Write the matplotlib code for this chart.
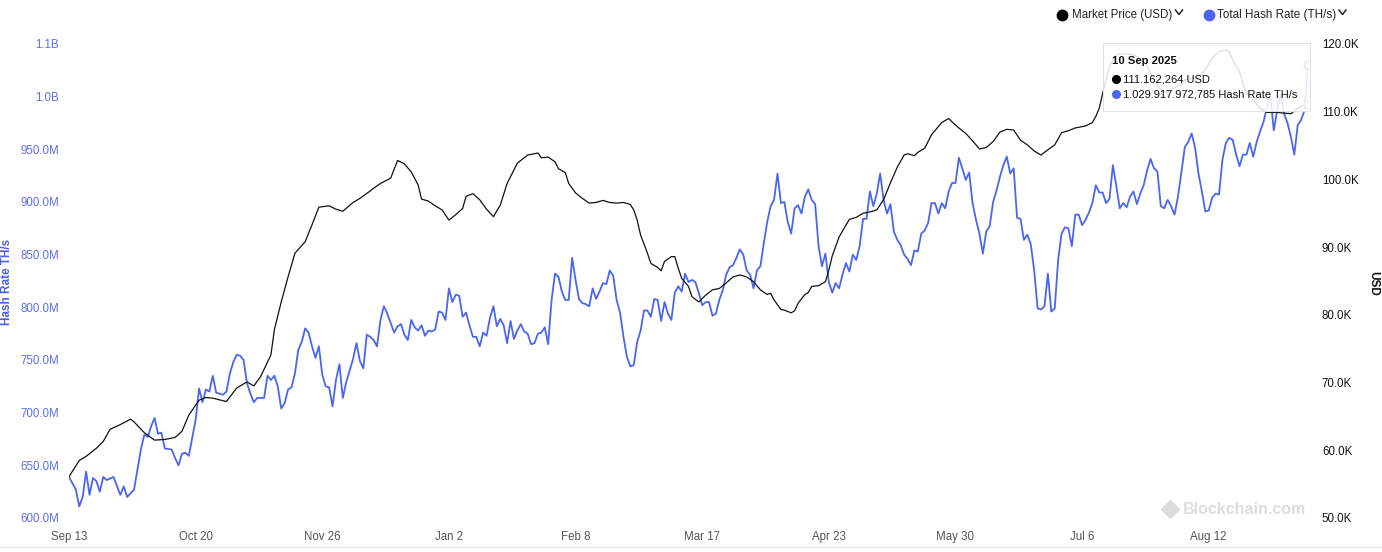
import matplotlib.pyplot as plt
import matplotlib.patches as mpatches
from matplotlib.lines import Line2D
import pandas as pd

plt.rcParams['font.family'] = ['Liberation Sans', 'DejaVu Sans']

# Datos (dias desde 13 Sep 2024)
start = pd.Timestamp("2024-09-13")

hash_days = [0, 2, 3, 4, 5, 6, 7, 8, 9, 10, 11, 13, 15, 16, 17, 19, 21, 22, 23, 24,
             25, 26, 27, 28, 30, 31, 32, 33, 34, 35, 37, 38, 39, 40, 41, 42, 43, 45, 46, 47,
             48, 49, 50, 51, 52, 53, 54, 55, 57, 58, 59, 60, 61, 62, 63, 64, 65, 66] + list(range(67, 363))
# Hash rate en millones de TH/s
hash_rate_m = [639, 627, 611, 620, 644, 622, 638, 635, 625, 639, 636, 639, 622, 630, 620, 627, 665, 679, 677, 687,
               695, 680, 681, 666, 665, 657, 650, 661, 662, 659, 693, 723, 710, 722, 720, 735, 719, 717, 720, 737,
               748, 755, 754, 750, 728, 718, 710, 714, 714, 735, 731, 735, 725, 704, 709, 722, 724, 737,
               760, 767, 780, 776, 763, 752, 763, 736, 725, 724,
               706, 731, 746, 714, 729, 740, 751, 766, 749, 742,
               774, 772, 769, 763, 788, 801, 794, 785, 776, 782,
               784, 774, 769, 788, 781, 778, 783, 773, 778, 777,
               779, 796, 795, 788, 818, 805, 812, 811, 791, 795,
               783, 772, 772, 763, 776, 773, 790, 801, 782, 789,
               783, 766, 787, 770, 778, 784, 777, 775, 765, 766,
               775, 776, 781, 765, 807, 832, 829, 815, 807, 807,
               847, 826, 808, 804, 803, 801, 818, 808, 815, 823,
               822, 835, 830, 807, 795, 772, 753, 744, 745, 767,
               778, 797, 797, 791, 808, 807, 787, 805, 794, 788,
               814, 820, 815, 832, 824, 826, 824, 814, 802, 805,
               805, 792, 794, 807, 816, 831, 838, 840, 847, 855,
               850, 835, 831, 818, 835, 839, 861, 881, 896, 902,
               927, 899, 900, 881, 870, 894, 897, 889, 905, 912,
               902, 898, 858, 839, 851, 824, 814, 823, 818, 831,
               842, 834, 850, 845, 858, 884, 884, 910, 896, 908,
               927, 902, 889, 898, 872, 864, 859, 850, 846, 840,
               854, 853, 870, 873, 880, 899, 899, 889, 899, 894,
               910, 918, 918, 942, 932, 921, 928, 899, 883, 870,
               851, 872, 877, 900, 911, 924, 935, 943, 927, 932,
               885, 884, 864, 869, 860, 835, 799, 798, 801, 832,
               796, 799, 845, 870, 876, 875, 858, 888, 888, 878,
               883, 890, 899, 916, 909, 909, 899, 903, 935, 915,
               894, 899, 895, 905, 910, 898, 908, 916, 930, 941,
               932, 929, 896, 894, 902, 896, 888, 905, 928, 952,
               957, 965, 952, 927, 910, 891, 892, 904, 908, 907,
               940, 956, 961, 959, 945, 934, 945, 945, 956, 943,
               957, 967, 976, 990, 1002, 968, 987, 1002, 984, 975,
               962, 945, 973, 978, 987, 1029.918]

price_days = [0, 3, 5, 8, 10, 12, 15, 18, 19, 22, 25, 28, 31, 33, 35, 38, 40, 42, 46, 49,
              52, 54, 56, 59, 60, 62, 64, 66, 69, 71, 73, 76, 78, 80, 83, 85, 88, 89, 91, 94,
              96, 98, 100, 102, 103, 105, 107, 109, 111, 113, 115, 116, 118, 120, 122, 124, 126, 128, 131, 134,
              135, 137, 138, 140, 142, 143, 145, 146, 148, 150, 152, 154, 156, 158, 160, 162, 164, 165, 166, 167,
              169, 170, 172, 173, 174, 176, 177, 178, 179, 181, 182, 184, 186, 188, 190, 192, 194, 196, 198, 200,
              202, 204, 205, 206, 208, 209, 211, 212, 213, 215, 216, 217, 219, 221, 222, 223, 225, 228, 230, 232,
              234, 236, 238, 240, 242, 244, 245, 247, 248, 250, 252, 254, 255, 257, 258, 260, 262, 264, 266, 268,
              270, 272, 274, 276, 278, 280, 282, 284, 285, 288, 290, 292, 294, 297, 299, 300, 301, 302, 304, 306,
              308, 311, 313, 315, 317, 319, 321, 323, 325, 326, 328, 330, 332, 334, 336, 338, 339, 340, 342, 343,
              344, 346, 348, 350, 353, 355, 357, 359, 360, 362]
# Precio en miles de USD
price_k = [56.1, 58.5, 59.1, 60.3, 61.3, 63.1, 63.8, 64.6, 64.2, 62.6, 61.5, 61.6, 61.9, 62.8, 65.2, 67.4, 67.8, 67.7, 67.2, 69.2,
           70.1, 69.5, 70.9, 74.1, 77.8, 81.9, 85.6, 89.1, 90.8, 93.3, 95.9, 96.1, 95.6, 95.3, 96.6, 97.2, 98.3, 98.7, 99.4, 100.2,
           102.8, 102.3, 101.1, 99.2, 97.1, 96.8, 96.1, 95.5, 94.0, 94.8, 95.7, 97.5, 97.9, 97.0, 95.6, 94.5, 96.2, 99.4, 102.4, 103.6,
           103.7, 103.9, 103.2, 103.3, 102.6, 101.6, 101.0, 99.4, 98.0, 97.2, 96.5, 96.6, 96.9, 96.6, 96.5, 96.6, 96.3, 95.5, 94.0, 91.8,
           89.1, 87.6, 87.0, 86.5, 87.9, 88.6, 88.6, 86.9, 85.4, 84.2, 82.7, 81.9, 82.9, 83.7, 83.9, 84.7, 85.6, 85.9, 85.6, 84.9,
           83.7, 83.0, 83.2, 82.2, 80.8, 80.7, 80.3, 80.6, 81.7, 83.0, 83.3, 84.2, 84.3, 84.9, 86.6, 88.7, 91.5, 94.1, 94.4, 95.0,
           95.2, 95.5, 97.0, 99.5, 101.8, 103.6, 103.8, 103.5, 104.0, 104.6, 106.6, 107.8, 108.4, 109.0, 108.5, 107.6, 106.8, 105.7, 104.5, 104.7,
           105.6, 107.0, 107.4, 107.3, 105.8, 105.1, 104.2, 103.6, 104.0, 105.1, 106.9, 107.2, 107.6, 107.9, 108.4, 109.3, 110.5, 112.7, 116.7, 118.4,
           118.6, 118.4, 117.9, 116.7, 114.7, 113.2, 112.9, 113.5, 114.1, 114.7, 114.9, 115.2, 116.2, 117.9, 118.9, 119.1, 118.9, 117.6, 115.9, 114.2,
           112.7, 111.7, 110.5, 109.9, 109.9, 109.8, 109.7, 110.5, 110.8, 111.162]

x_tick_dates = ["2024-09-13", "2024-10-20", "2024-11-26", "2025-01-02", "2025-02-08",
                "2025-03-17", "2025-04-23", "2025-05-30", "2025-07-06", "2025-08-12"]
x_tick_labels = ["Sep 13", "Oct 20", "Nov 26", "Jan 2", "Feb 8",
                 "Mar 17", "Apr 23", "May 30", "Jul 6", "Aug 12"]
hash_ticks_m = [600, 650, 700, 750, 800, 850, 900, 950, 1000, 1050]
hash_tick_labels = ["600.0M", "650.0M", "700.0M", "750.0M", "800.0M", "850.0M",
                    "900.0M", "950.0M", "1.0B", "1.1B"]
price_ticks_k = [50, 60, 70, 80, 90, 100, 110, 120]
price_tick_labels = ["50.0K", "60.0K", "70.0K", "80.0K", "90.0K", "100.0K", "110.0K", "120.0K"]

tooltip_date = "10 Sep 2025"
tooltip_price = "111.162,264 USD"
tooltip_hash = "1.029.917.972,785 Hash Rate TH/s"

BLUE = "#4a66ee"
W, H = 1382, 552


def fx(px):
    return px / W


def fy(py):
    return 1 - py / H


hash_dates = start + pd.to_timedelta(hash_days, unit="D")
price_dates = start + pd.to_timedelta(price_days, unit="D")
hash_vals = [v * 1e6 for v in hash_rate_m]
price_vals = [v * 1e3 for v in price_k]

fig = plt.figure(figsize=(W / 100, H / 100), dpi=100)
ax = fig.add_axes([fx(69), fy(518), fx(1308) - fx(69), (518 - 44) / H])
ax2 = ax.twinx()

ax.plot(hash_dates, hash_vals, color=BLUE, lw=1.3)
ax2.plot(price_dates, price_vals, color="#111111", lw=0.9)

# marcadores del cursor
ax.plot(hash_dates[-1], hash_vals[-1], "o", ms=6, mfc="white", mec=BLUE, mew=1.2)
ax2.plot(price_dates[-1], price_vals[-1], "o", ms=6, mfc="white", mec="#888888", mew=1.2)

ax.set_xlim(start, start + pd.Timedelta(days=362))
ax.set_ylim(600e6, 1050e6)
ax2.set_ylim(50e3, 120e3)

ax.set_xticks(pd.to_datetime(x_tick_dates))
ax.set_xticklabels(x_tick_labels)
ax.set_yticks([v * 1e6 for v in hash_ticks_m])
ax.set_yticklabels(hash_tick_labels)
ax2.set_yticks([v * 1e3 for v in price_ticks_k])
ax2.set_yticklabels(price_tick_labels)

ax.tick_params(axis="x", length=0, pad=9.5, labelsize=8.3, labelcolor="#555555")
ax.tick_params(axis="y", length=0, pad=7, labelsize=8.3, labelcolor="#5a6ee8")
ax2.tick_params(axis="y", length=0, pad=10, labelsize=8.3, labelcolor="#111111")
for a in (ax, ax2):
    for s in a.spines.values():
        s.set_visible(False)

fig.text(fx(7), fy(282), "Hash Rate TH/s", rotation=90, ha="center", va="center",
         fontsize=8.5, fontweight="bold", color="#4a5fe6")
fig.text(fx(1373), fy(283), "USD", rotation=270, ha="center", va="center",
         fontsize=8.5, fontweight="bold", color="#111111")

# leyenda
fig.add_artist(Line2D([fx(1062)], [fy(15)], marker="o", ms=7.5, color="#000000", transform=fig.transFigure))
fig.text(fx(1072), fy(15), "Market Price (USD)", va="center", fontsize=8.3, color="#222222")
fig.add_artist(Line2D([fx(1175.5), fx(1179), fx(1182.5)], [fy(10), fy(14.5), fy(10)],
                      color="#222222", lw=1.1, transform=fig.transFigure))
fig.add_artist(Line2D([fx(1208.5)], [fy(15)], marker="o", ms=7.5, color=BLUE, transform=fig.transFigure))
fig.text(fx(1217), fy(15), "Total Hash Rate (TH/s)", va="center", fontsize=8.4, color="#222222")
fig.add_artist(Line2D([fx(1339), fx(1342.5), fx(1346)], [fy(10), fy(14.5), fy(10)],
                      color="#222222", lw=1.1, transform=fig.transFigure))

# tooltip
fig.add_artist(mpatches.Rectangle((fx(1102.5), fy(110.7)), fx(1309.5) - fx(1102.5), (110.7 - 43.3) / H,
                                  transform=fig.transFigure, facecolor=(1, 1, 1, 0.86),
                                  edgecolor="#e2e2e2", lw=0.8, zorder=5))
fig.text(fx(1112), fy(60.5), tooltip_date, va="center", fontsize=8.1, fontweight="bold",
         color="#111111", zorder=6)
fig.add_artist(Line2D([fx(1115.5)], [fy(79.3)], marker="o", ms=5.5, color="#000000",
                      transform=fig.transFigure, zorder=6))
fig.text(fx(1123), fy(79.3), tooltip_price, va="center", fontsize=8.0, color="#111111", zorder=6)
fig.add_artist(Line2D([fx(1115.5)], [fy(94.3)], marker="o", ms=5.5, color=BLUE,
                      transform=fig.transFigure, zorder=6))
fig.text(fx(1123), fy(94.3), tooltip_hash, va="center", fontsize=8.0, color="#111111", zorder=6)

# marca de agua
fig.add_artist(Line2D([fx(1170)], [fy(509)], marker="D", ms=9, color="#dcdcdc", transform=fig.transFigure))
fig.text(fx(1183), fy(509), "Blockchain.com", va="center", fontsize=11.5, fontweight="bold", color="#dcdcdc")

fig.add_artist(Line2D([0, 1], [fy(547), fy(547)], color="#e6e6e6", lw=1, transform=fig.transFigure))

fig.savefig("out.png", dpi=100)
